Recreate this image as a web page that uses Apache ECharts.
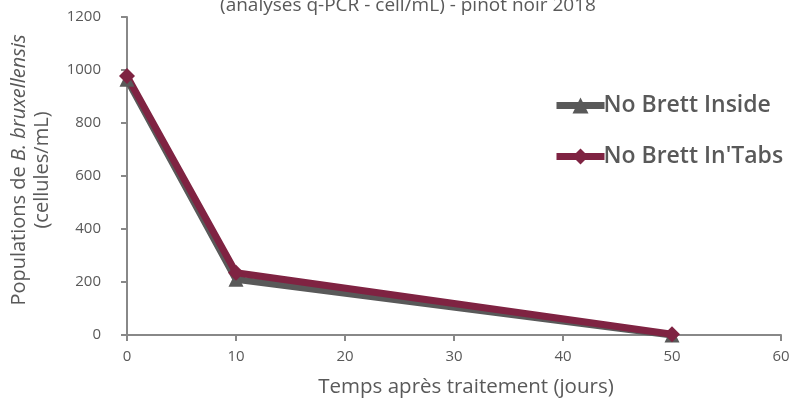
<!DOCTYPE html>
<html><head><meta charset="utf-8">
<script src="https://cdn.jsdelivr.net/npm/echarts@6/dist/echarts.min.js"></script>
<style>html,body{margin:0;padding:0;background:#fff}#c{width:791px;height:401px}</style>
</head><body><div id="c"></div>
<script>
const days = [0, 10, 50];
const seriesNames = ['No Brett Inside', "No Brett In'Tabs"];
const insideValues = [965, 210, 0];
const inTabsValues = [977, 235, 3];
const xTicks = [0, 10, 20, 30, 40, 50, 60];
const yTicks = [0, 200, 400, 600, 800, 1000, 1200];

const chart = echarts.init(document.getElementById('c'));
const txt = '#595959';
const font = '"Open Sans", Roboto, sans-serif';
chart.setOption({
  animation: false,
  title: {
    text: '(analyses q-PCR - cell/mL) - pinot noir 2018',
    left: 403, textAlign: 'center', top: -9,
    textStyle: {fontSize: 19, fontWeight: 'normal', color: txt, fontFamily: font}
  },
  legend: {
    orient: 'vertical', left: 553, top: 94, itemGap: 28, padding: 0,
    itemWidth: 48, itemHeight: 20,
    lineStyle: {width: 7},
    textStyle: {fontSize: 23, color: txt, fontFamily: font, fontWeight: 600, padding: [0,0,0,-6]},
    data: seriesNames
  },
  grid: {left: 127, right: 10, top: 17, bottom: 66, outerBoundsMode: 'none', containLabel: false},
  xAxis: {
    type: 'value', min: 0, max: 60, interval: 10,
    name: 'Temps après traitement (jours)', nameLocation: 'middle', nameGap: 42,
    nameTextStyle: {fontSize: 20.5, color: txt, fontFamily: font, padding: [0, 0, 0, 24]},
    axisLine: {lineStyle: {color: '#888', width: 2}},
    axisTick: {show: true, length: 6, lineStyle: {color: '#888', width: 2}},
    axisLabel: {fontSize: 15, color: txt, fontFamily: font, margin: 14, formatter: v => xTicks.includes(v) ? String(v) : ''},
    splitLine: {show: false}
  },
  yAxis: {
    type: 'value', min: 0, max: 1200, interval: 200,
    name: '{n|Populations de }{i|B. bruxellensis}\n{n|(cellules/mL)}',
    nameLocation: 'middle', nameGap: 73, nameRotate: 90,
    nameTextStyle: {
      padding: [0, 0, 0, 12],
      rich: {
        n: {fontSize: 20, color: txt, fontFamily: font, lineHeight: 23},
        i: {fontSize: 20, color: txt, fontFamily: font, fontStyle: 'italic', lineHeight: 23}
      }
    },
    axisLine: {show: true, lineStyle: {color: '#888', width: 2}},
    axisTick: {show: true, length: 6, lineStyle: {color: '#888', width: 2}},
    axisLabel: {fontSize: 15, color: txt, fontFamily: font, margin: 26, formatter: v => yTicks.includes(v) ? String(v) : ''},
    splitLine: {show: false}
  },
  series: [
    {
      name: seriesNames[0], type: 'line',
      data: days.map((d, i) => [d, insideValues[i]]),
      symbol: 'triangle', symbolSize: 15,
      lineStyle: {color: '#595959', width: 7},
      itemStyle: {color: '#595959'}
    },
    {
      name: seriesNames[1], type: 'line',
      data: days.map((d, i) => [d, inTabsValues[i]]),
      symbol: 'diamond', symbolSize: 16,
      lineStyle: {color: '#7f2342', width: 7},
      itemStyle: {color: '#7f2342'}
    }
  ]
});
</script></body></html>
